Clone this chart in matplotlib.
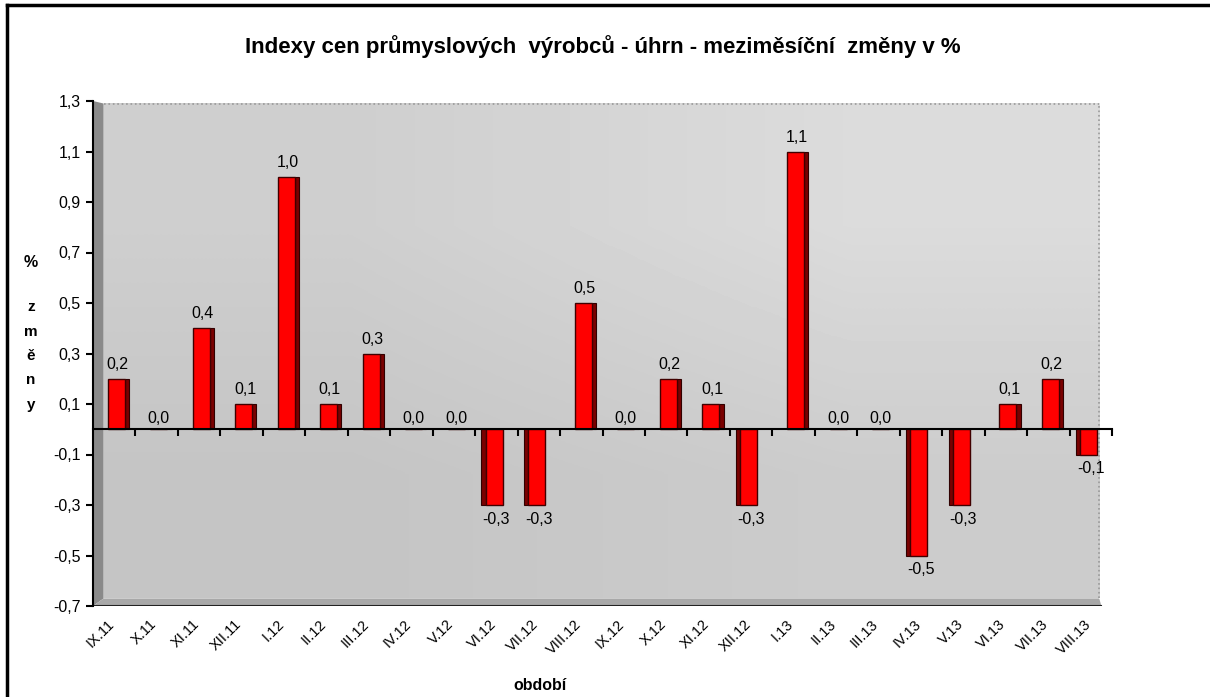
import matplotlib
matplotlib.use('Agg')
import matplotlib.pyplot as plt
import numpy as np
from matplotlib.lines import Line2D
from matplotlib.patches import Polygon

plt.rcParams['font.family'] = ['Liberation Sans', 'DejaVu Sans']

# data
periods = ['IX.11', 'X.11', 'XI.11', 'XII.11', 'I.12', 'II.12', 'III.12', 'IV.12',
           'V.12', 'VI.12', 'VII.12', 'VIII.12', 'IX.12', 'X.12', 'XI.12', 'XII.12',
           'I.13', 'II.13', 'III.13', 'IV.13', 'V.13', 'VI.13', 'VII.13', 'VIII.13']
changes = [0.2, 0.0, 0.4, 0.1, 1.0, 0.1, 0.3, 0.0, 0.0, -0.3, -0.3, 0.5,
           0.0, 0.2, 0.1, -0.3, 1.1, 0.0, 0.0, -0.5, -0.3, 0.1, 0.2, -0.1]
yticks = [-0.7, -0.5, -0.3, -0.1, 0.1, 0.3, 0.5, 0.7, 0.9, 1.1, 1.3]

W, H = 1210, 697
fig = plt.figure(figsize=(W / 100, H / 100), dpi=100)
ax = fig.add_axes([93 / W, 1 - 606 / H, (1112 - 93) / W, (606 - 101) / H])
ax.set_xlim(0, 24)
ax.set_ylim(-0.7, 1.3)

# 3D-ish walls
grad = np.array([[0.81, 0.86], [0.77, 0.80]])
ax.imshow(grad, cmap='gray', vmin=0, vmax=1, extent=(0.25, 23.7, -0.67, 1.29),
          aspect='auto', interpolation='bilinear', zorder=0)
ax.add_patch(Polygon([(0, -0.7), (0, 1.3), (0.25, 1.29), (0.25, -0.67)],
                     closed=True, facecolor='#8a8a8a', edgecolor='none', zorder=0))
ax.add_patch(Polygon([(0, -0.7), (0.25, -0.67), (23.7, -0.67), (23.75, -0.7)],
                     closed=True, facecolor='#a8a8a8', edgecolor='none', zorder=0))
ax.plot([0.25, 23.7], [1.29, 1.29], color='#999999', lw=1.2, ls=':', zorder=1)
ax.plot([23.7, 23.7], [-0.67, 1.29], color='#999999', lw=1.2, ls=':', zorder=1)
ax.axhline(-0.7, xmax=23.75 / 24, color='#222222', lw=1.5, zorder=2)

x = np.arange(len(periods))
vals = np.array(changes)
face_w = 0.40
side_w = 0.10
# dark side of each bar
side_x = np.where(vals >= 0, x + 0.55 + face_w / 2 + side_w / 2, x + 0.45 - face_w / 2 - side_w / 2)
face_x = np.where(vals >= 0, x + 0.55, x + 0.45)
ax.bar(side_x, vals, width=side_w, color='#7a0000', edgecolor='#300000', lw=0.8, zorder=3)
ax.bar(face_x, vals, width=face_w, color='#ff0000', edgecolor='#400000', lw=1.0, zorder=4)

for i, v in enumerate(changes):
    lbl = f'{v:.1f}'.replace('.', ',')
    if v > 0:
        ax.annotate(lbl, (i + 0.58, v), xytext=(0, 5), textcoords='offset points',
                    ha='center', va='bottom', fontsize=11.5, zorder=6)
    elif v < 0:
        ax.annotate(lbl, (i + 0.5, v), xytext=(0, -5), textcoords='offset points',
                    ha='center', va='top', fontsize=11.5, zorder=6)
    else:
        ax.annotate(lbl, (i + 0.55, v), xytext=(0, 2), textcoords='offset points',
                    ha='center', va='bottom', fontsize=11.5, zorder=6)

# axes styling
for s in ['top', 'right']:
    ax.spines[s].set_visible(False)
ax.spines['left'].set_linewidth(1.5)
ax.spines['bottom'].set_position(('data', 0))
ax.spines['bottom'].set_linewidth(1.5)
ax.spines['bottom'].set_zorder(5)
ax.set_yticks(yticks)
ax.set_yticklabels([f'{t:.1f}'.replace('.', ',') for t in yticks], fontsize=11.5)
ax.tick_params(axis='y', direction='out', length=5, width=1.5, pad=4)
ax.set_xticks(np.arange(1, 25))
ax.set_xticklabels([])
ax.tick_params(axis='x', direction='out', length=5, width=1.5)

for i, p in enumerate(periods):
    ax.annotate(p, (i + 0.5, -0.7), xytext=(2, -8), textcoords='offset points',
                rotation=45, ha='right', va='top', fontsize=10.5)

fig.text(603 / W, 1 - 47 / H,
         'Indexy cen průmyslových  výrobců - úhrn - meziměsíční  změny v %',
         ha='center', va='center', fontsize=16, fontweight='bold')
fig.text(31 / W, 1 - 262 / H, '%', ha='center', va='center', fontsize=11.5, fontweight='bold')
fig.text(31 / W, 1 - 356 / H, 'z\nm\ně\nn\ny', ha='center', va='center',
         fontsize=11, fontweight='bold', linespacing=1.95)
fig.text(540 / W, 1 - 685 / H, 'období', ha='center', va='center',
         fontsize=11.5, fontweight='bold')

# outer frame
fig.add_artist(Line2D([7 / W, 1], [1 - 5 / H, 1 - 5 / H], color='black', lw=2.5))
fig.add_artist(Line2D([7 / W, 7 / W], [0, 1 - 5 / H], color='black', lw=2.5))

fig.savefig('out.png', dpi=100)
